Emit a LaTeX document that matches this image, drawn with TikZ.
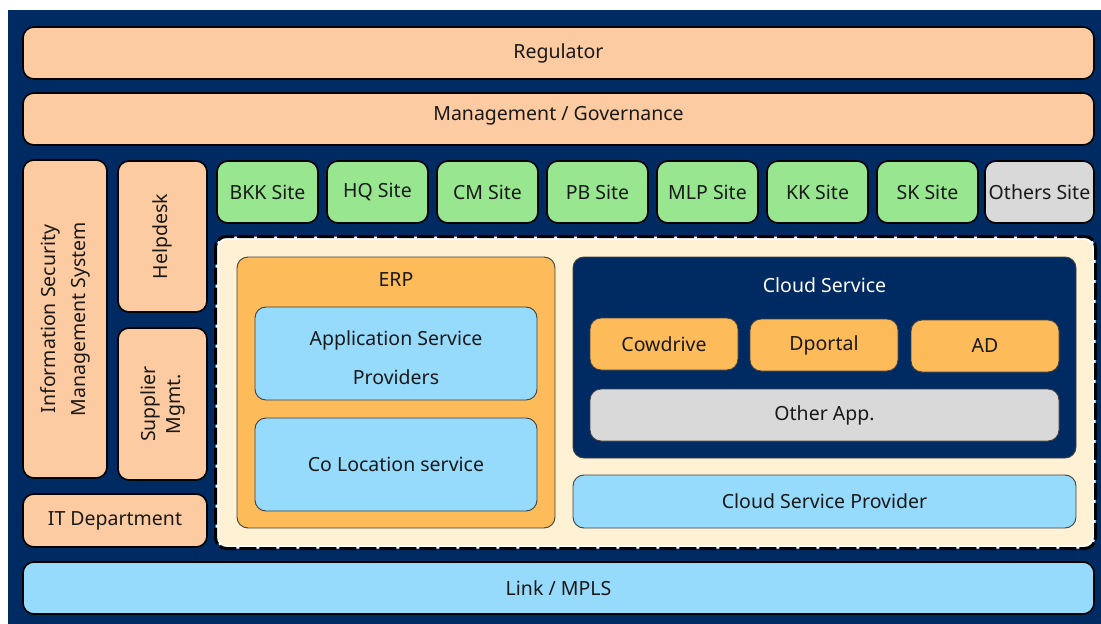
\documentclass[tikz,border=0pt]{standalone}
\usepackage{fontspec}
\setmainfont{Noto Sans}
\definecolor{navy}{HTML}{002A62}
\definecolor{peach}{HTML}{FDCBA1}
\definecolor{sitegreen}{HTML}{98E690}
\definecolor{softgrey}{HTML}{D9D9D9}
\definecolor{skyblue}{HTML}{97DBFC}
\definecolor{amber}{HTML}{FDBB5A}
\definecolor{cream}{HTML}{FFF1D3}
\tikzset{
  box/.style={draw=black, line width=1.6pt, rounded corners=11pt, inner sep=0pt,
    align=center, font=\fontsize{19.5}{22}\selectfont, text=black!90},
  thinbox/.style={box, draw=black!75, line width=0.9pt},
  peachbox/.style={box, fill=peach},
  sitebox/.style={box, fill=sitegreen, minimum width=101pt, minimum height=62pt},
  lbl/.style={font=\fontsize{19.5}{22}\selectfont, text=black!90, align=center},
}
\begin{document}
\begin{tikzpicture}[x=1pt,y=-1pt]
\useasboundingbox (0,0) rectangle (1101,624);
\fill[white] (0,0) rectangle (1101,624);
\fill[navy] (8,10) rectangle (1101,624);
% top bars
\node[peachbox, minimum width=1071pt, minimum height=52pt] (reg) at (558.5,53) {Regulator};
\node[peachbox, minimum width=1071pt, minimum height=52pt] (mgmt) at (558.5,119) {};
\node[lbl] (mgmtt) at (558.5,116) {Management / Governance};
% left column
\node[peachbox, minimum width=84pt, minimum height=318pt] (isms) at (65,319) {};
\node[lbl, rotate=90, font=\fontsize{19.5}{30}\selectfont] (ismst) at (isms.center) {Information Security\\Management System};
\node[peachbox, minimum width=89pt, minimum height=151pt] (help) at (162.5,236.5) {};
\node[lbl, rotate=90] (helpt) at (help.center) {Helpdesk};
\node[peachbox, minimum width=89pt, minimum height=152pt] (supp) at (162.5,404) {};
\node[lbl, rotate=90, font=\fontsize{19.5}{25}\selectfont] (suppt) at (supp.center) {Supplier\\Mgmt.};
\node[peachbox, minimum width=184pt, minimum height=53pt] (itd) at (115,520.5) {IT Department};
% sites
\node[sitebox] (bkk) at (267.5,192) {BKK Site};
\node[sitebox] (hq) at (377.5,192) {HQ Site};
\node[sitebox] (cm) at (487.5,192) {CM Site};
\node[sitebox] (pb) at (597.5,192) {PB Site};
\node[sitebox] (mlp) at (707.5,192) {MLP Site};
\node[sitebox] (kk) at (817.5,192) {KK Site};
\node[sitebox] (sk) at (927.5,192) {SK Site};
\node[sitebox, fill=softgrey, minimum width=109pt] (others) at (1039.5,192) {Others Site};
% dashed container
\node[fill=cream, draw=white, line width=3pt, rounded corners=11pt, minimum width=877pt, minimum height=309pt] (cont) at (655.5,392.5) {};
\draw[black, line width=3pt, dash pattern=on 17pt off 3pt, rounded corners=11pt]
  (cont.north west) rectangle (cont.south east);
% ERP
\node[thinbox, fill=amber, minimum width=318pt, minimum height=271pt] (erp) at (396,392.5) {};
\node[lbl] (erpt) at (396,280) {ERP};
\node[thinbox, fill=skyblue, minimum width=282pt, minimum height=93pt] (asp) at (396,353.5) {};
\node[lbl, font=\fontsize{19.5}{39}\selectfont] (aspt) at (396,358) {Application Service\\Providers};
\node[thinbox, fill=skyblue, minimum width=282pt, minimum height=93pt] (coloc) at (396,464.5) {Co Location service};
% Cloud
\node[thinbox, fill=navy, minimum width=503pt, minimum height=201pt] (cloud) at (824.5,357.5) {};
\node[lbl, text=white] (cloudt) at (824.5,285) {Cloud Service};
\node[thinbox, fill=amber, minimum width=148pt, minimum height=52pt] (cow) at (664,344) {Cowdrive};
\node[thinbox, fill=amber, minimum width=148pt, minimum height=52pt] (dp) at (824,345) {Dportal};
\node[thinbox, fill=amber, minimum width=148pt, minimum height=52pt] (ad) at (985,346) {AD};
\node[thinbox, fill=softgrey, minimum width=469pt, minimum height=52pt] (oth) at (824.5,415) {Other App.};
\node[thinbox, fill=skyblue, minimum width=503pt, minimum height=53pt] (csp) at (824.5,501.5) {Cloud Service Provider};
% link
\node[box, fill=skyblue, minimum width=1071pt, minimum height=52pt] (link) at (558.5,588) {Link / MPLS};
\end{tikzpicture}
\end{document}
